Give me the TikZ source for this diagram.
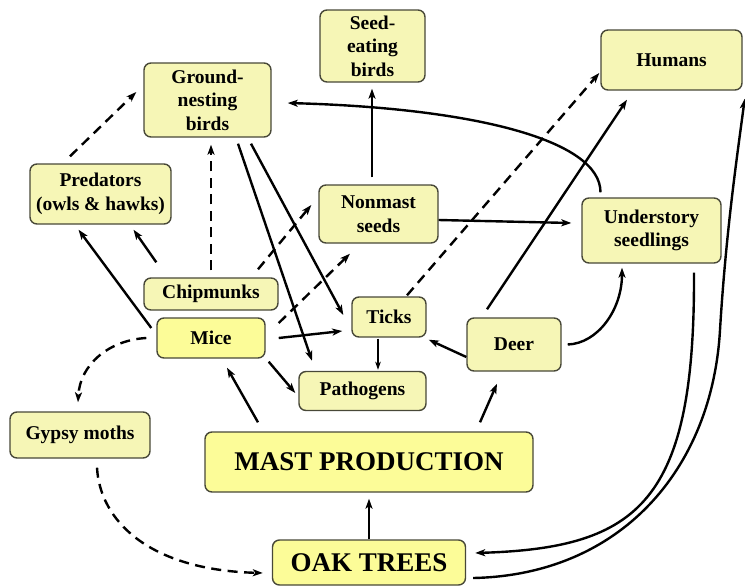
\documentclass[tikz,border=0pt]{standalone}
\usepackage{fontspec}
\setmainfont{Liberation Serif}
\usetikzlibrary{arrows.meta}
\definecolor{boxfill}{RGB}{246,246,182}
\definecolor{keyfill}{RGB}{252,252,152}
\definecolor{boxline}{RGB}{72,72,56}
\begin{document}
\begin{tikzpicture}[x=1pt,y=-1pt,
  box/.style={draw=boxline,line width=1.4pt,fill=boxfill,rounded corners=7pt,
    inner sep=0pt,align=center,font=\fontsize{19.5}{23.5}\selectfont\bfseries},
  keybox/.style={box,fill=keyfill},
  bigbox/.style={keybox,font=\fontsize{27}{30}\selectfont\bfseries},
  arr/.style={line width=2.4pt,-{Stealth[length=10pt,width=7pt,inset=2.5pt]}},
  thinarr/.style={line width=1.6pt,-{Stealth[length=8pt,width=5.5pt,inset=2pt]}},
  dasharr/.style={arr,dash pattern=on 10pt off 6.5pt}]
\useasboundingbox (0,0) rectangle (745,587);

% boxes
\node[box,minimum width=105pt,minimum height=72pt] (seb) at (372.5,46) {Seed-\\eating\\birds};
\node[box,minimum width=141pt,minimum height=60pt] (hum) at (671.5,60) {Humans};
\node[box,minimum width=127pt,minimum height=74pt] (gnb) at (207.5,100) {Ground-\\nesting\\birds};
\node[box,minimum width=141pt,minimum height=60pt] (pred) at (100.5,194) {Predators\\(owls \& hawks)};
\node[box,minimum width=119pt,minimum height=58pt] (nms) at (378.5,214) {Nonmast\\seeds};
\node[box,minimum width=139pt,minimum height=65pt] (und) at (651.5,230.5) {Understory\\seedlings};
\node[box,minimum width=134pt,minimum height=32pt] (chip) at (211,294) {Chipmunks};
\node[keybox,minimum width=108pt,minimum height=40pt] (mice) at (211,338) {Mice};
\node[box,minimum width=74pt,minimum height=40pt] (ticks) at (389,317) {Ticks};
\node[box,minimum width=127pt,minimum height=39pt] (path) at (362.5,391) {Pathogens};
\node[box,minimum width=94pt,minimum height=53pt] (deer) at (514,344.5) {Deer};
\node[box,minimum width=140pt,minimum height=46pt] (gyp) at (80,435) {Gypsy moths};
\node[bigbox,minimum width=328pt,minimum height=60pt] (mast) at (369,462) {MAST PRODUCTION};
\node[bigbox,minimum width=193pt,minimum height=45pt] (oak) at (369,562.5) {OAK TREES};

% straight links
\draw[dasharr] ([xshift=-30.5pt,yshift=7pt]pred.north) -- ([xshift=-7pt,yshift=8pt]gnb.west);
\draw[dasharr] ([yshift=7pt]chip.north) -- ([xshift=3.5pt,yshift=-7pt]gnb.south);
\draw[arr] ([xshift=43.5pt,yshift=-6pt]gnb.south) -- ([xshift=-8pt,yshift=2pt]ticks.west);
\draw[arr] ([xshift=30.5pt,yshift=-6pt]gnb.south) -- ([xshift=-50.5pt,yshift=10pt]path.north);
\draw[dasharr] ([xshift=47pt,yshift=8pt]chip.north) -- ([xshift=-7pt,yshift=9pt]nms.west);
\draw[dasharr] ([xshift=13pt,yshift=15pt]mice.east) -- ([xshift=-28.5pt,yshift=-10pt]nms.south);
\draw[arr] ([xshift=13pt]mice.east) -- ([xshift=-9pt,yshift=-14pt]ticks.west);
\draw[arr] ([xshift=3pt,yshift=-3pt]mice.south east) -- ([xshift=-3pt,yshift=-2pt]path.west);
\draw[thinarr] ([xshift=-11pt,yshift=-1pt]ticks.south) -- ([xshift=15.5pt,yshift=1pt]path.north);
\draw[dasharr] ([xshift=18pt,yshift=1pt]ticks.north) -- ([xshift=-1pt,yshift=-13pt]hum.west);
\draw[arr] ([yshift=-12.5pt]deer.west) -- ([xshift=2pt,yshift=-2pt]ticks.south east);
\draw[arr] ([xshift=-27pt,yshift=8pt]deer.north) -- ([xshift=-44.5pt,yshift=-9pt]hum.south);
\draw[arr] ([xshift=-6.5pt,yshift=7pt]nms.north) -- ([xshift=-0.5pt,yshift=-6pt]seb.south);
\draw[arr] ([yshift=-6pt]nms.east) -- ([xshift=-10pt,yshift=7.5pt]und.west);
\draw[arr] (oak.north) -- ([yshift=-6pt]mast.south);
\draw[arr] ([xshift=-111pt,yshift=9pt]mast.north) -- ([xshift=16pt,yshift=-9pt]mice.south);
\draw[arr] ([xshift=111pt,yshift=9pt]mast.north) -- ([xshift=-17pt,yshift=-12pt]deer.south);
\draw[arr] ([xshift=-5pt,yshift=10pt]mice.west) -- ([xshift=-22pt,yshift=-5pt]pred.south);
\draw[arr] ([xshift=13pt,yshift=15pt]chip.north west) -- ([xshift=33pt,yshift=-5pt]pred.south);

% curved links
\draw[arr] ([xshift=6pt]deer.east) .. controls +(30,-1) and +(0,42) .. ([xshift=-29.5pt,yshift=-4pt]und.south);
\draw[arr] ([xshift=-51pt,yshift=5pt]und.north) .. controls +(0,-53) and +(183,5) .. ([xshift=16pt,yshift=-3pt]gnb.east);
\draw[arr] ([xshift=42.5pt,yshift=-9pt]und.south) .. controls +(1,228) and +(165,-5) .. ([xshift=9pt,yshift=9.5pt]oak.east);
\draw[arr] ([xshift=7pt,yshift=-15.5pt]oak.east) .. controls (620,575) and (712,470) .. (720,330)
  .. controls (726,230) and (738,150) .. ([xshift=2pt,yshift=-8pt]hum.south east);
\draw[dasharr] ([xshift=-10pt]mice.west) .. controls +(-37,2) and +(2,-38) .. ([xshift=-2pt,yshift=9pt]gyp.north);
\draw[dasharr] ([xshift=17pt,yshift=-9pt]gyp.south) .. controls +(3,53) and +(-114,-3) .. ([xshift=-9pt,yshift=-10.5pt]oak.west);
\end{tikzpicture}
\end{document}
